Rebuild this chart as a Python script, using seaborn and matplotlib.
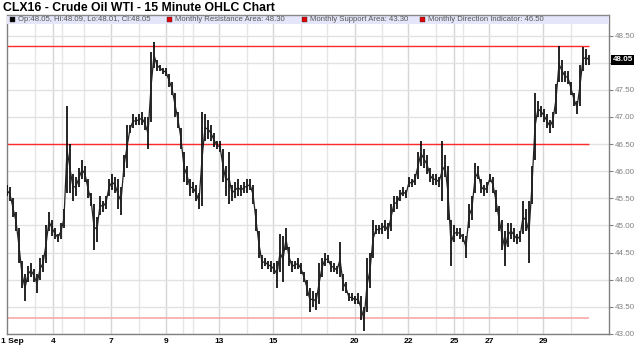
import matplotlib
matplotlib.use("Agg")
import matplotlib.pyplot as plt
import seaborn as sns
import numpy as np
import pandas as pd
from matplotlib.patches import Rectangle

# ---------------- data ----------------
title = "CLX16 - Crude Oil WTI - 15 Minute OHLC Chart"
legend_items = ["Op:48.05, Hi:48.09, Lo:48.01, Cl:48.05",
                "Monthly Resistance Area: 48.30",
                "Monthly Support Area: 43.30",
                "Monthly Direction Indicator: 46.50"]
legend_colors = ["#000000", "#e00000", "#e00000", "#e00000"]

resistance = 48.30
support = 43.30
direction = 46.50
last_price = 48.05

# high / low of each sampled group of 15-minute bars (in time order)
highs = [45.75, 45.70, 45.50, 45.25, 44.95, 44.35, 44.10, 44.25, 44.30, 44.20,
         44.10, 44.40, 44.45, 45.00, 45.25, 45.10, 44.95, 44.85, 45.05, 45.30,
         47.20, 46.50, 45.95, 45.90, 46.05, 46.20, 46.10, 45.85, 45.60, 45.40,
         45.15, 45.55, 45.45, 45.55, 45.85, 45.95, 45.90, 45.85, 45.70, 46.30,
         46.85, 46.85, 47.05, 47.00, 47.05, 47.10, 47.00, 47.00, 48.20, 48.38,
         48.05, 47.95, 47.90, 47.90, 47.80, 47.65, 47.45, 47.10, 46.80, 46.35,
         46.10, 45.85, 45.80, 45.75, 45.60, 47.10, 47.05, 46.95, 46.85, 46.70,
         46.55, 46.55, 46.40, 46.10, 46.35, 45.75, 45.80, 45.85, 45.75, 45.80,
         45.85, 45.85, 45.75, 45.30, 44.90, 44.45, 44.40, 44.35, 44.35, 44.30,
         44.35, 44.85, 44.80, 44.95, 44.60, 44.35, 44.35, 44.40, 44.30, 44.15,
         44.00, 43.85, 43.80, 43.75, 44.30, 44.40, 44.50, 44.45, 44.35, 44.30,
         44.25, 44.70, 44.10, 43.95, 43.75, 43.75, 43.70, 43.75, 43.70, 43.50,
         44.40, 44.50, 45.10, 45.00, 45.00, 45.05, 45.10, 45.05, 45.40, 45.55,
         45.55, 45.65, 45.70, 45.65, 45.90, 45.85, 45.95, 46.35, 46.55, 46.40,
         46.30, 46.05, 45.95, 45.95, 45.90, 46.55, 46.30, 46.10, 45.10, 45.00,
         44.95, 44.95, 44.85, 44.80, 45.40, 45.55, 46.15, 46.10, 45.85, 45.75,
         45.80, 45.95, 45.90, 45.65, 45.35, 45.10, 44.90, 45.05, 45.05, 44.95,
         44.85, 44.90, 45.45, 45.30, 45.45, 46.10, 47.45, 47.30, 47.20, 47.15,
         47.05, 46.95, 47.10, 47.60, 48.30, 48.05, 47.85, 47.85, 47.65, 47.45,
         47.30, 47.95, 48.28, 48.25, 48.15]
lows = [45.55, 45.45, 45.15, 44.90, 44.30, 43.85, 43.60, 43.95, 44.05, 43.95,
        43.75, 44.00, 44.15, 44.30, 44.90, 44.80, 44.75, 44.70, 44.75, 44.95,
        45.60, 45.60, 45.45, 45.55, 45.70, 45.85, 45.80, 45.50, 45.35, 44.55,
        44.70, 45.20, 45.25, 45.30, 45.55, 45.65, 45.60, 45.30, 45.20, 45.90,
        46.05, 46.70, 46.80, 46.85, 46.85, 46.85, 46.75, 46.40, 46.90, 47.90,
        47.85, 47.85, 47.80, 47.75, 47.55, 47.40, 47.00, 46.80, 46.40, 45.80,
        45.75, 45.55, 45.60, 45.45, 45.30, 45.35, 46.55, 46.60, 46.55, 46.45,
        46.40, 46.35, 45.80, 45.55, 45.40, 45.45, 45.50, 45.55, 45.55, 45.60,
        45.60, 45.65, 45.40, 44.90, 44.40, 44.20, 44.25, 44.20, 44.15, 44.10,
        43.85, 44.15, 43.95, 44.55, 44.25, 44.15, 44.20, 44.20, 44.10, 43.95,
        43.70, 43.40, 43.50, 43.45, 43.55, 44.05, 44.25, 44.30, 44.15, 44.15,
        44.10, 44.05, 43.80, 43.75, 43.60, 43.60, 43.55, 43.55, 43.25, 43.05,
        43.40, 43.85, 44.40, 44.85, 44.85, 44.85, 44.90, 44.75, 44.90, 45.25,
        45.30, 45.45, 45.55, 45.50, 45.70, 45.70, 45.75, 45.85, 46.10, 46.05,
        45.95, 45.80, 45.75, 45.75, 45.70, 45.45, 45.90, 45.10, 44.25, 44.70,
        44.80, 44.75, 44.70, 44.40, 44.95, 45.10, 45.60, 45.85, 45.60, 45.55,
        45.60, 45.80, 45.60, 45.25, 44.90, 44.55, 44.25, 44.60, 44.75, 44.70,
        44.65, 44.70, 44.85, 44.90, 44.30, 45.40, 46.20, 47.00, 47.00, 46.90,
        46.80, 46.70, 46.80, 47.05, 47.65, 47.65, 47.65, 47.60, 47.40, 47.20,
        47.05, 47.20, 47.85, 47.95, 47.95]

x_tick_pos = [0, 15.4, 34.8, 52.9, 70.8, 88.8, 115.9, 133.8, 149.0, 160.8, 178.8]
x_tick_labels = ["1 Sep", "4", "7", "9", "13", "15", "20", "22", "25", "27", "29"]
grid_x = [9.2, 15.4, 18.2, 25.8, 34.8, 43.9, 52.9, 58.8, 61.9, 70.8, 79.9, 88.8,
          97.9, 106.8, 115.9, 124.9, 133.8, 142.9, 149.0, 151.9, 160.8, 169.9,
          178.8, 187.9]
y_ticks = [43.0, 43.5, 44.0, 44.5, 45.0, 45.5, 46.0, 46.5, 47.0, 47.5, 48.0, 48.5]

# ---------------- figure ----------------
sns.set_theme(style="white")
plt.rcParams['font.family'] = ['Liberation Sans', 'DejaVu Sans']

W, H = 640, 363
fig = plt.figure(figsize=(W / 100, H / 100), dpi=100)
left_px, right_px, top_px, bot_px = 7, 609, 15, 334
ax = fig.add_axes([left_px / W, 1 - bot_px / H, (right_px - left_px) / W, (bot_px - top_px) / H])

n = len(highs)
df = pd.DataFrame({"t": np.arange(n), "high": highs, "low": lows})
df["mid"] = (df["high"] + df["low"]) / 2

x_max = (right_px - left_px) / 3.0
y_top = 48.5 + (35.5 - top_px) / 54.2
ax.set_xlim(0, x_max)
ax.set_ylim(43.0, y_top)

# grid
for gx in grid_x:
    strong = gx in x_tick_pos
    ax.axvline(gx, color="#d6d6d6" if strong else "#e6e6e6", lw=1.0, zorder=0)
for gy in y_ticks:
    ax.axhline(gy, color="#e2e2e2", lw=1.0, zorder=0)

# indicator lines
ax.hlines([resistance, direction], 0, n - 1, color="#ff2a2a", lw=1.0, zorder=2)
ax.hlines([support], 0, n - 1, color="#f6a9a9", lw=1.2, zorder=2)

# price bars
ax.vlines(df["t"], df["low"], df["high"], color="#000000", lw=1.2, zorder=3)
sns.lineplot(data=df, x="t", y="mid", ax=ax, color="#222222", lw=0.9, zorder=3)

# legend band
band_h = 9 / (bot_px - top_px)
ax.add_patch(Rectangle((0, 1 - band_h), 1, band_h, transform=ax.transAxes,
                       facecolor="#e6e6fa", edgecolor="none", zorder=4, clip_on=False))
ax.plot([0, 1], [1, 1], transform=ax.transAxes, color="#888888", lw=1.0, zorder=5, clip_on=False)

ax.set_xlabel("")
ax.set_ylabel("")
ax.yaxis.tick_right()
ax.set_yticks(y_ticks)
# the 48.00 label is hidden behind the last-price box in the reference
ax.set_yticklabels(["" if v == 48.0 else f"{v:.2f}" for v in y_ticks], color="#808080", fontsize=5.8)
ax.tick_params(axis="y", which="both", right=True, length=3, width=0.8, color="#808080", pad=1.5)
ax.set_xticks(x_tick_pos)
ax.set_xticklabels([""] + x_tick_labels[1:], fontsize=6, fontweight="bold", color="#000000")
ax.tick_params(axis="x", length=0, pad=3)
fig.text(1 / W, 1 - 341.5 / H, x_tick_labels[0], fontsize=6, fontweight="bold", color="#000000",
         ha="left", va="center")

for s in ["left", "bottom", "right"]:
    ax.spines[s].set_color("#808080")
    ax.spines[s].set_linewidth(1.0)
ax.spines["top"].set_visible(False)

# last price label
ax.text(1.006, last_price, f"{last_price:.2f}", transform=ax.get_yaxis_transform(),
        fontsize=5.8, fontweight="bold", color="white", va="center", ha="left",
        bbox=dict(boxstyle="square,pad=0.15", facecolor="black", edgecolor="none"), zorder=6)

# title
fig.text(3 / W, 1 - 8 / H, title, fontsize=8.8, fontweight="bold", color="#000000",
         va="center", ha="left")

# legend entries
item_x = [10, 167, 302, 420]
y_leg = 1 - 19.5 / H
for xp, txt, c in zip(item_x, legend_items, legend_colors):
    fig.patches.append(Rectangle((xp / W, y_leg - 2.5 / H), 5 / W, 5 / H, transform=fig.transFigure,
                                 facecolor=c, edgecolor="#333333", lw=0.3, zorder=7))
    fig.text((xp + 8) / W, y_leg, txt, fontsize=5.6, color="#555555", va="center", ha="left", zorder=7)

fig.savefig("out.png", dpi=100, facecolor="white")
